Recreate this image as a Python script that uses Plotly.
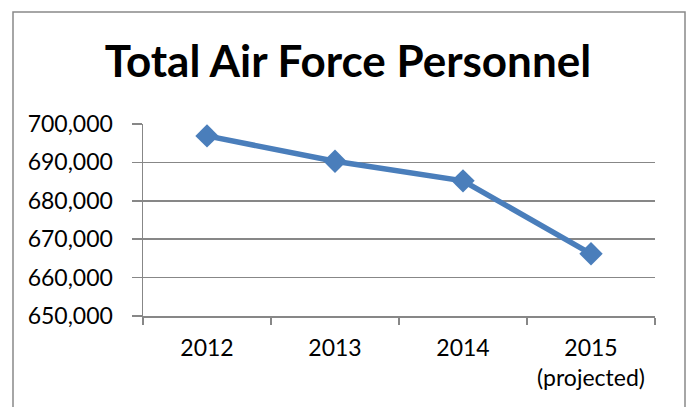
import plotly.graph_objects as go

categories = ["2012", "2013", "2014", "2015<br>(projected)"]
personnel = [696900, 690300, 685200, 666200]
y_ticks = [650000, 660000, 670000, 680000, 690000, 700000]
y_tick_labels = ["650,000", "660,000", "670,000", "680,000", "690,000", "700,000"]

W, H = 688, 407
L, R, T, B = 143, 33, 124, 91
pw, ph = W - L - R, H - T - B

fig = go.Figure()
fig.add_trace(go.Scatter(
    x=categories, y=personnel, mode="lines+markers",
    line=dict(color="#4A7EBB", width=5.5),
    marker=dict(symbol="diamond", size=18, color="#4A7EBB"),
    showlegend=False, hoverinfo="skip",
))

grid = "#878787"
fig.update_layout(
    width=W, height=H,
    margin=dict(l=L, r=R, t=T, b=B, pad=0),
    paper_bgcolor="white", plot_bgcolor="white",
    font=dict(family="Lato", color="black", size=23),
    title=dict(text="<b>Total Air Force Personnel</b>", x=348 / W, xanchor="center",
               y=1 - 62 / H, yanchor="middle", yref="container",
               font=dict(family="Lato", size=44, color="black")),
    xaxis=dict(type="category", showgrid=False, showline=True, linecolor=grid, linewidth=1.5,
               ticks="outside", tickson="boundaries", ticklen=7, tickcolor=grid, tickwidth=1.5,
               tickfont=dict(size=23, family="Lato"), ticklabelstandoff=11,
               range=[-0.5, 3.5], fixedrange=True),
    yaxis=dict(range=[650000, 700000], tickvals=y_ticks, ticktext=y_tick_labels,
               showgrid=True, gridcolor=grid, gridwidth=1.5,
               showline=True, linecolor=grid, linewidth=1.5,
               ticks="outside", ticklen=10, tickcolor=grid, tickwidth=1.5,
               tickfont=dict(size=23, family="Lato"), ticklabelstandoff=14,
               zeroline=False, fixedrange=True),
    shapes=[dict(type="rect", xref="paper", yref="paper",
                 x0=(13 - L) / pw, x1=(685 - L) / pw,
                 y0=-(420 - (H - B)) / ph,
                 y1=((H - B) - 12) / ph,
                 line=dict(color="#898989", width=1.5), layer="below")],
)

fig.write_html("out.html", config={"displayModeBar": False, "staticPlot": True},
               post_script="document.body.style.margin='0';document.body.style.overflow='hidden';")
